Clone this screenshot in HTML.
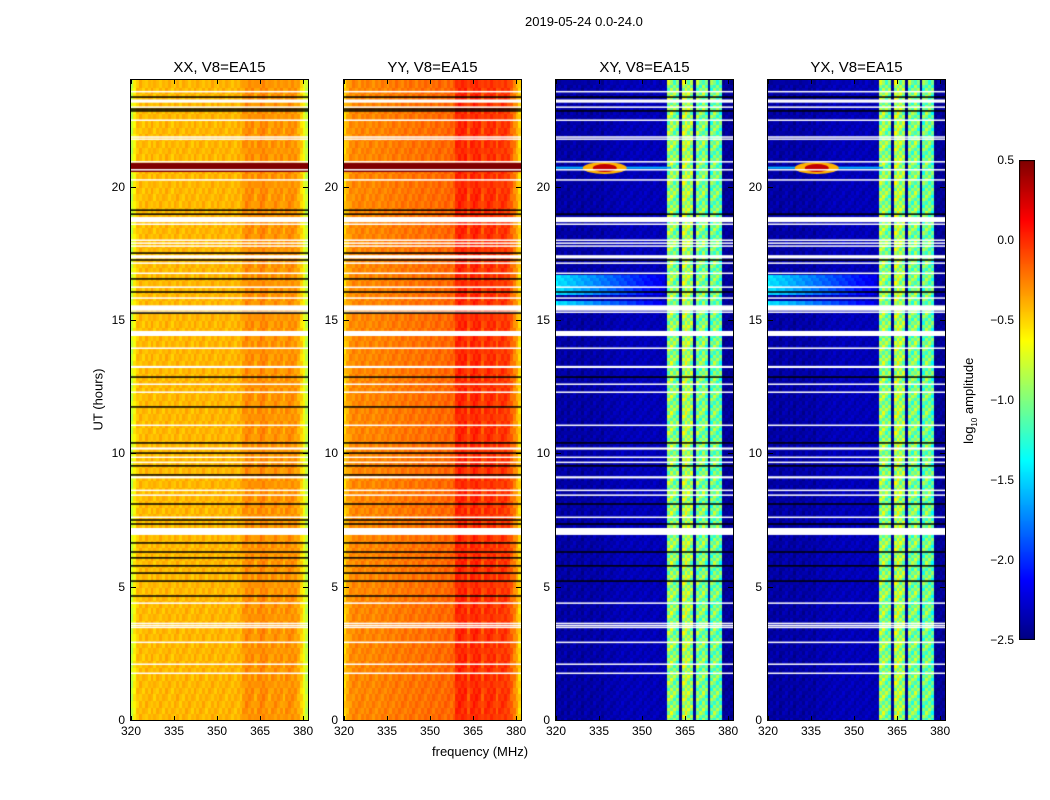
<!DOCTYPE html>
<html><head><meta charset="utf-8"><style>
body{margin:0;background:#fff;font-family:"Liberation Sans",sans-serif;}
#wrap{position:relative;width:1050px;height:800px;overflow:hidden;background:#fff}
.t{position:absolute;font-size:12px;color:#000;white-space:nowrap}
canvas{position:absolute}
</style></head><body>
<div id="wrap">
<div class="t" style="left:525px;top:14px;font-size:13px">2019-05-24 0.0-24.0</div>
<div class="t" style="left:432px;top:744px;font-size:13px">frequency (MHz)</div>
<div class="t" style="left:60px;top:392px;font-size:13px;transform:rotate(-90deg);transform-origin:center;width:76px;text-align:center">UT (hours)</div>
<div class="t" style="left:920px;top:392px;font-size:13px;transform:rotate(-90deg);width:100px;text-align:center">log<sub style="font-size:8px">10</sub> amplitude</div>
<canvas id="cb" width="16" height="480" style="left:1019px;top:160px"></canvas>
</div>
<script>
const freqs=[];for(let f=320;f<=381;f++)freqs.push(f);
const xTicks=[320,335,350,365,380];
const yTicks=[0,5,10,15,20];
const cbTicks=[0.5,0.0,-0.5,-1.0,-1.5,-2.0,-2.5];
const titles=["XX, V8=EA15","YY, V8=EA15","XY, V8=EA15","YX, V8=EA15"];
// per-channel log10 amplitude profiles (320..381 MHz)
const profXX=[-0.8,-0.6,-0.45,-0.42,-0.44,-0.41,-0.43,-0.4,-0.44,-0.42,-0.41,-0.43,-0.4,-0.42,-0.44,-0.41,-0.4,-0.43,-0.42,-0.4,-0.41,-0.43,-0.4,-0.42,-0.41,-0.4,-0.43,-0.41,-0.4,-0.42,-0.4,-0.41,-0.4,-0.42,-0.4,-0.41,-0.42,-0.4,-0.41,-0.33,-0.28,-0.3,-0.29,-0.36,-0.3,-0.26,-0.27,-0.3,-0.36,-0.31,-0.3,-0.32,-0.31,-0.37,-0.3,-0.29,-0.3,-0.32,-0.38,-0.5,-0.65,-0.8];
const profYY=[-0.5,-0.38,-0.3,-0.28,-0.27,-0.28,-0.26,-0.27,-0.28,-0.26,-0.27,-0.27,-0.26,-0.26,-0.25,-0.25,-0.25,-0.24,-0.23,-0.24,-0.23,-0.22,-0.23,-0.22,-0.21,-0.22,-0.21,-0.2,-0.21,-0.2,-0.19,-0.2,-0.19,-0.18,-0.19,-0.18,-0.17,-0.18,-0.17,0.0,0.03,0.01,0.02,-0.12,0.0,0.03,0.02,0.0,-0.12,-0.02,0.0,-0.01,-0.02,-0.13,-0.04,-0.02,-0.03,-0.06,-0.16,-0.26,-0.36,-0.5];
const profXY=[-2.42,-2.38,-2.42,-2.36,-2.44,-2.38,-2.36,-2.42,-2.37,-2.44,-2.36,-2.38,-2.42,-2.36,-2.4,-2.36,-2.42,-2.34,-2.36,-2.38,-2.36,-2.34,-2.36,-2.32,-2.36,-2.34,-2.32,-2.36,-2.33,-2.32,-2.36,-2.32,-2.34,-2.36,-2.32,-2.34,-2.36,-2.34,-2.36,-0.95,-0.9,-1.0,-1.05,-2.45,-0.85,-0.8,-0.9,-0.95,-2.45,-1.0,-1.05,-0.95,-1.1,-2.45,-1.1,-1.0,-1.05,-1.15,-2.45,-2.42,-2.42,-2.44];
const profYX=profXY.slice();
// flagged times (hours): white = no data, black = separator lines
const whiteGapStart=[23.55,23.15,22.97,22.48,21.85,21.77,20.91,20.61,20.23,18.67,18.58,17.98,17.87,17.76,17.31,17.12,16.74,16.22,15.81,15.35,15.28,14.4,13.93,13.2,12.58,12.28,11.04,10.14,9.84,9.65,9.06,8.6,8.42,7.59,6.94,4.37,3.62,3.54,3.47,2.9,2.08,1.74];
const whiteGapDur=[0.04,0.12,0.04,0.04,0.04,0.04,0.05,0.05,0.05,0.19,0.04,0.04,0.04,0.04,0.12,0.04,0.04,0.04,0.04,0.2,0.04,0.19,0.04,0.08,0.04,0.04,0.04,0.08,0.04,0.04,0.08,0.04,0.04,0.04,0.26,0.04,0.03,0.03,0.03,0.04,0.04,0.04];
const blackLines=[23.36,22.91,22.84,19.12,18.97,17.51,17.25,16.54,16.05,15.26,12.86,11.74,10.39,10.01,9.53,9.19,8.1,7.5,7.35,6.64,6.3,6.08,5.78,5.51,5.21,4.65];
const rfiTime=[20.7],rfiFreq=[337];
const cyanStart=[15.5,16.0],cyanEnd=[15.75,16.75];

const L=[131,344,556,768],T=80,W=177,H=640,F0=320,F1=381.7;
const xS=f=>(f-F0)/(F1-F0)*W;
const yS=h=>H-h/24*H;
function jet(v){let x=(v+2.5)/3;x=Math.max(0,Math.min(1,x));
 const c=a=>Math.round(255*Math.max(0,Math.min(1,a)));
 return `rgb(${c(1.5-Math.abs(4*x-3))},${c(1.5-Math.abs(4*x-2))},${c(1.5-Math.abs(4*x-1))})`;}
const wrap=document.getElementById('wrap');
const profs=[profXX,profYY,profXY,profYX];
function txt(s,x,y,name,extra){const d=document.createElement('div');d.className='t';d.textContent=s;
 d.style.left=x+'px';d.style.top=y+'px';if(extra)d.style.cssText+=extra;
 
 
 wrap.appendChild(d);return d;}
for(let p=0;p<4;p++){
 const cv=document.createElement('canvas');cv.width=W;cv.height=H;
 cv.style.left=L[p]+'px';cv.style.top=T+'px';
 
 
 wrap.appendChild(cv);const g=cv.getContext('2d');
 const cross=p>=2;const pr=profs[p];
 const rows=cross?192:96,dh=24/rows;
 for(let r=0;r<rows;r++){const h0=r*dh;
  for(let i=0;i<freqs.length;i++){
   let v=pr[i]+((r*7+i*3)%5-2)*(cross&&pr[i]>-2?0.12:0.03);
   if(cross){for(let k=0;k<cyanStart.length;k++) if(h0>=cyanStart[k]&&h0<cyanEnd[k]&&freqs[i]<358) v=Math.max(v,-1.5-(freqs[i]-320)*0.02+((r+i)%3)*0.05);}
   g.fillStyle=jet(v);
   const x0=xS(freqs[i]),x1=xS(freqs[i]+1);
   g.fillRect(Math.floor(x0),Math.floor(yS(h0+dh)),Math.ceil(x1-x0)+1,Math.ceil(H/rows)+1);
  }}
 for(let k=0;k<rfiTime.length;k++){
  if(!cross){g.fillStyle=jet(0.5);g.fillRect(0,yS(rfiTime[k]+0.2),W,yS(rfiTime[k]-0.15)-yS(rfiTime[k]+0.2));}
  else{g.fillStyle=jet(-1.6);g.fillRect(0,yS(rfiTime[k]+0.05),W*0.65,2);
   g.fillStyle=jet(-0.4);g.beginPath();g.ellipse(xS(rfiFreq[k]),yS(rfiTime[k]),22,6,0,0,7);g.fill();
   g.fillStyle=jet(0.3);g.beginPath();g.ellipse(xS(rfiFreq[k]),yS(rfiTime[k]),12,4,0,0,7);g.fill();}
 }
 g.fillStyle='#fff';
 for(let k=0;k<whiteGapStart.length;k++){const y0=yS(whiteGapStart[k]+whiteGapDur[k]);g.fillRect(0,y0,W,Math.max(1.5,yS(whiteGapStart[k])-y0));}
 g.fillStyle='#000';
 for(let k=0;k<blackLines.length;k++){if(cross&&k%2)continue;g.fillRect(0,yS(blackLines[k])-0.75,W,1.5);}
 const fr=document.createElement('div');fr.style.cssText=`position:absolute;left:${L[p]-1}px;top:${T-1}px;width:${W}px;height:${H}px;border:1px solid #000`;
 
 
 wrap.appendChild(fr);
 txt(titles[p],L[p]+W/2-52,59,'panel-title','font-size:15px;width:104px;text-align:center');
 xTicks.forEach(f=>{const x=L[p]+xS(f);
  txt(String(f),x-11,724,'x-tick-label','width:22px;text-align:center');
  [[T+H-4],[T]].forEach(([y])=>{const t=document.createElement('div');t.style.cssText=`position:absolute;left:${x}px;top:${y}px;width:1px;height:4px;background:#000`;
   
   
   wrap.appendChild(t);});});
 yTicks.forEach(h=>{const y=T+yS(h);
  txt(String(h),L[p]-26,y-7,'y-tick-label','width:20px;text-align:right');
  [L[p],L[p]+W-5].forEach(x=>{const t=document.createElement('div');t.style.cssText=`position:absolute;left:${x}px;top:${y}px;width:5px;height:1px;background:#000`;
   
   
   wrap.appendChild(t);});});
}
const cb=document.getElementById('cb').getContext('2d');
for(let y=0;y<480;y++){cb.fillStyle=jet(0.5-y/480*3);cb.fillRect(0,y,16,1);}
cb.strokeStyle='#000';cb.strokeRect(0.5,0.5,15,479);
cbTicks.forEach(v=>{const y=160+(0.5-v)/3*480;
 txt(v<0?'\u2212'+Math.abs(v).toFixed(1):v.toFixed(1),982,y-7,'colorbar-tick-label','width:32px;text-align:right;font-size:12px');});
</script>
</body></html>
